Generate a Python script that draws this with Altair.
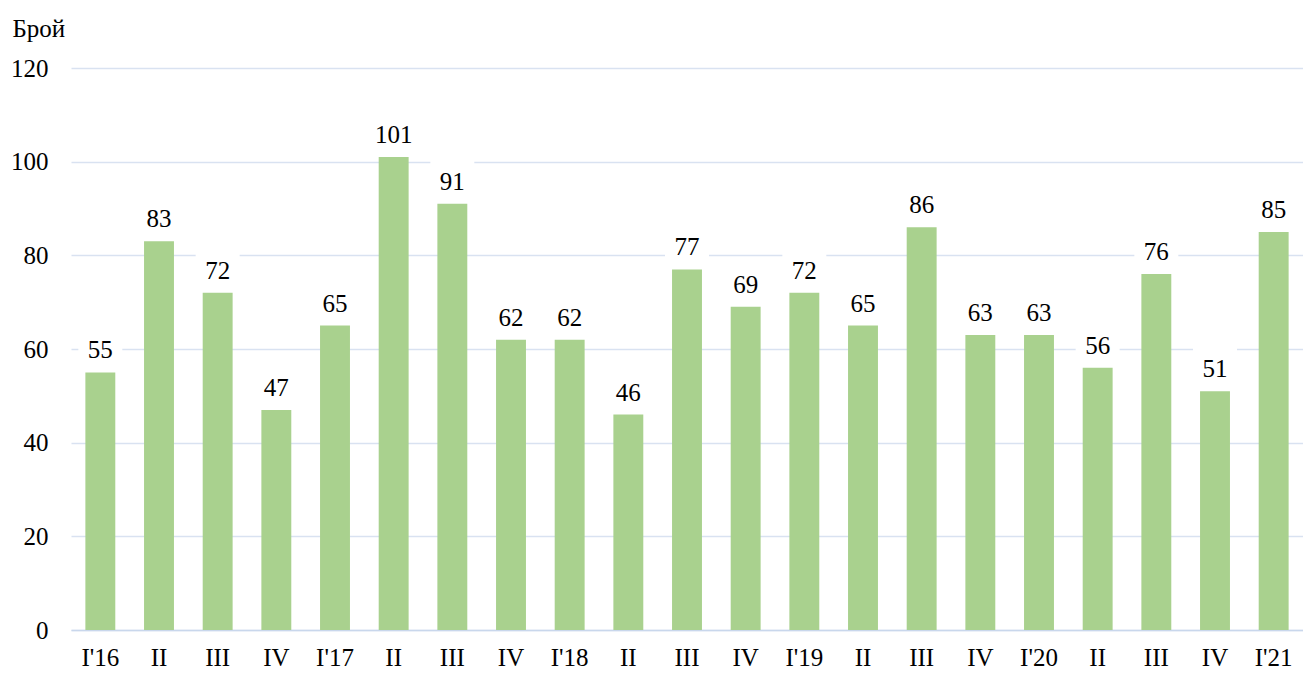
import json
import altair as alt
import pandas as pd

labels = ["I'16", "II", "III", "IV", "I'17", "II", "III", "IV", "I'18", "II", "III", "IV",
          "I'19", "II", "III", "IV", "I'20", "II", "III", "IV", "I'21"]
values = [55, 83, 72, 47, 65, 101, 91, 62, 62, 46, 77, 69, 72, 65, 86, 63, 63, 56, 76, 51, 85]

df = pd.DataFrame({"idx": list(range(len(values))), "label": labels, "value": values})

FONT = "'Times New Roman', 'Liberation Serif', 'DejaVu Serif', serif"
label_expr = json.dumps(labels) + "[datum.value]"

x = alt.X("idx:O", title=None,
          scale=alt.Scale(paddingInner=0.49, paddingOuter=0.245),
          axis=alt.Axis(labelExpr=label_expr, labelAngle=0, ticks=False,
                        domainColor="#c9d7ec", domainWidth=1.5, labelPadding=15,
                        labelFont=FONT, labelFontSize=25, labelColor="#000000"))
y = alt.Y("value:Q", title="Брой",
          scale=alt.Scale(domain=[0, 120], nice=False),
          axis=alt.Axis(values=[0, 20, 40, 60, 80, 100, 120], ticks=False, domain=False,
                        gridColor="#d9e2f1", gridWidth=1.5, labelPadding=23,
                        labelFont=FONT, labelFontSize=25, labelColor="#000000",
                        titleAngle=0, titleX=-59, titleY=-40, titleAlign="left",
                        titleBaseline="middle", titleFont=FONT, titleFontSize=25,
                        titleFontWeight="normal", titleColor="#000000"))

base = alt.Chart(df)

boxes = base.mark_bar(color="white", size=44, yOffset=-46, y2Offset=-6).encode(
    x=x, y=y, y2="value:Q")
bars = base.mark_bar(color="#a9d18e").encode(x=x, y=y)
text = base.mark_text(font=FONT, fontSize=25, color="#000000", baseline="alphabetic",
                      dy=-14).encode(x=x, y=y, text="value:Q")

chart = alt.layer(boxes, bars, text).properties(
    width=1232, height=562,
    padding={"left": 63, "top": 60, "right": 0, "bottom": 42},
    autosize=alt.AutoSizeParams(type="none"),
).configure_view(stroke=None)

chart.save("out.html", embed_options={"renderer": "svg", "actions": False})
